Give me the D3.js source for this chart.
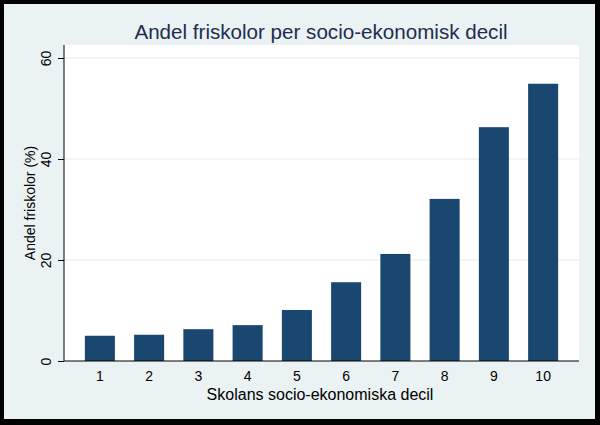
<!DOCTYPE html>
<html>
<head>
<meta charset="utf-8">
<script src="https://cdn.jsdelivr.net/npm/d3@7"></script>
<style>
  body { margin: 0; }
  svg { display: block; font-family: Arial, "Liberation Sans", sans-serif; }
</style>
</head>
<body>
<div id="container"></div>
<script>
  const deciles = ["1", "2", "3", "4", "5", "6", "7", "8", "9", "10"];
  const shares = [5.0, 5.2, 6.3, 7.1, 10.1, 15.6, 21.2, 32.1, 46.3, 54.9];
  const yTicks = [0, 20, 40, 60];

  const width = 600;
  const height = 425;
  const plot = { left: 64, right: 579, top: 45, bottom: 361 };

  const svg = d3.select("#container").append("svg")
    .attr("width", width)
    .attr("height", height);

  // frame
  svg.append("rect").attr("width", width).attr("height", height).attr("fill", "#000");
  svg.append("rect")
    .attr("x", 4).attr("y", 4)
    .attr("width", 591).attr("height", 415)
    .attr("fill", "#eaf2f3");
  svg.append("rect")
    .attr("x", plot.left).attr("y", plot.top)
    .attr("width", plot.right - plot.left).attr("height", plot.bottom - plot.top)
    .attr("fill", "#fff");

  const x = d3.scaleBand()
    .domain(deciles)
    .range([75, 568])
    .paddingInner(0.39)
    .paddingOuter(0.2);

  const y = d3.scaleLinear()
    .domain([0, 60])
    .range([plot.bottom, plot.bottom - 303]);

  // gridlines
  svg.append("g")
    .selectAll("line")
    .data(yTicks.filter(d => d > 0))
    .join("line")
    .attr("x1", plot.left).attr("x2", plot.right)
    .attr("y1", d => y(d)).attr("y2", d => y(d))
    .attr("stroke", "#eaeaea")
    .attr("stroke-width", 1);

  // bars
  svg.append("g")
    .selectAll("rect")
    .data(shares)
    .join("rect")
    .attr("x", (d, i) => x(deciles[i]))
    .attr("width", x.bandwidth())
    .attr("y", d => y(d))
    .attr("height", d => y(0) - y(d))
    .attr("fill", "#1a476f");

  // y axis, labels turned on their side like stata
  const yAxis = svg.append("g")
    .attr("transform", `translate(${plot.left},0)`)
    .call(d3.axisLeft(y).tickValues(yTicks).tickSize(6));
  yAxis.select(".domain").attr("d", `M0,${plot.top}V${plot.bottom}`).attr("stroke", "#000");
  yAxis.selectAll(".tick line").attr("stroke", "#000");
  yAxis.selectAll(".tick text")
    .attr("font-size", 14)
    .attr("fill", "#000")
    .attr("text-anchor", "middle")
    .attr("transform", "rotate(-90)")
    .attr("x", 0)
    .attr("y", -12)
    .attr("dy", "-0.05em");

  // x axis
  const xAxis = svg.append("g")
    .attr("transform", `translate(0,${plot.bottom})`)
    .call(d3.axisBottom(x).tickSize(0).tickPadding(10));
  xAxis.select(".domain").attr("d", `M${plot.left},0H${plot.right}`).attr("stroke", "#000");
  xAxis.selectAll(".tick text").attr("font-size", 14).attr("fill", "#000");

  // titles
  svg.append("text")
    .attr("x", 321).attr("y", 39)
    .attr("text-anchor", "middle")
    .attr("font-size", 20.6)
    .attr("fill", "#1e2d4f")
    .text("Andel friskolor per socio-ekonomisk decil");

  svg.append("text")
    .attr("x", 320).attr("y", 400)
    .attr("text-anchor", "middle")
    .attr("font-size", 16)
    .attr("fill", "#000")
    .text("Skolans socio-ekonomiska decil");

  svg.append("text")
    .attr("transform", `translate(35,${(plot.top + plot.bottom) / 2}) rotate(-90)`)
    .attr("text-anchor", "middle")
    .attr("font-size", 14)
    .attr("fill", "#000")
    .text("Andel friskolor (%)");
</script>
</body>
</html>
